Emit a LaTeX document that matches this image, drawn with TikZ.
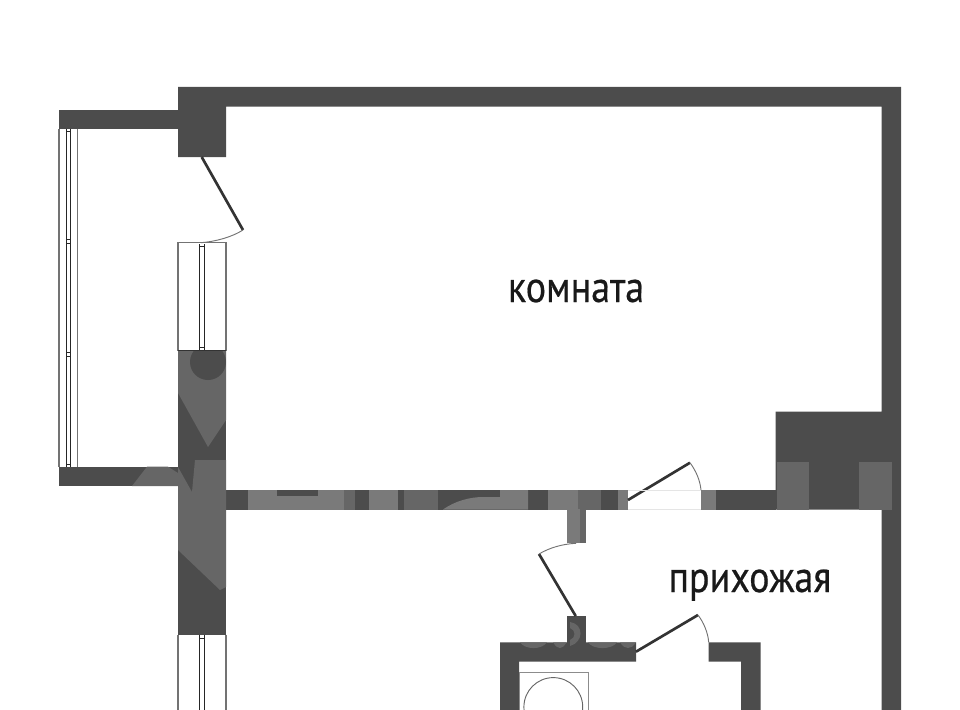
\documentclass[tikz,border=0pt]{standalone}
\usepackage{fontspec}
\setmainfont{PT Sans}
\newfontfamily\roomfont[FakeBold=0.5]{PT Sans}
\usepackage{tikz}

\begin{document}
\begin{tikzpicture}[x=0.75pt,y=-0.75pt,
    wall/.style={fill=black!70, draw=none},
    faded/.style={fill=black!60, draw=none},
    pale/.style={fill=black!52, draw=none},
    glass/.style={draw=black!55, line width=0.9pt},
    frame/.style={draw=black!85, line width=0.6pt},
    leaf/.style={draw=black!80, line width=2pt},
    swing/.style={draw=black!55, line width=0.7pt},
    room/.style={font=\roomfont\fontsize{33}{35}\selectfont, text=black!90, inner sep=0pt, anchor=base}]
    \useasboundingbox (0,0) rectangle (960,710);

    % outer walls
    \fill[wall] (178,87) -- (901,87) -- (901,710) -- (881.7,710) -- (881.7,509.5) -- (775.7,509.5)
        -- (775.7,411.7) -- (881.7,411.7) -- (881.7,106.5) -- (226,106.5) -- (226,157) -- (178,157) -- cycle;
    \fill[wall] (59,109.5) rectangle (178,128.7);
    \fill[wall] (59,466.7) rectangle (178,486);
    \fill[wall] (178,350.7) rectangle (226,634.7);

    % inner walls
    \fill[wall] (226,490) rectangle (628,509.5);
    \fill[wall] (701,490) rectangle (776,509.5);
    \fill[wall] (566.7,509) rectangle (586,543.3);
    \fill[wall] (566.7,616) rectangle (586,650);
    \fill[wall] (500,710) -- (500,642.3) -- (636,642.3) -- (636,661.7) -- (519,661.7) -- (519,710) -- cycle;
    \fill[wall] (708.7,642.3) -- (760.7,642.3) -- (760.7,710) -- (741,710) -- (741,661.7) -- (708.7,661.7) -- cycle;

    % lighter patches on the walls
    \fill[faded] (178,350.7) -- (226,350.7) -- (226,420) -- (208,447) -- (178,393) -- cycle;
    \begin{scope}
        \clip (178,350.7) rectangle (226,400);
        \fill[wall] (208,362) circle (18);
    \end{scope}
    \fill[faded] (195,460) -- (226,460) -- (226,587) -- (220,590) -- (178,550) -- (178,467) -- (192,492) -- cycle;
    \fill[faded] (147,466.7) -- (168,466.7) -- (178,473) -- (178,486) -- (132,486) -- cycle;
    \fill[pale] (248,490) rectangle (344,509.5);
    \fill[wall] (277,490) rectangle (318,496);
    \fill[faded] (344,490) rectangle (355,509.5);
    \fill[pale] (369,490) rectangle (398,509.5);
    \fill[faded] (404,490) rectangle (438,509.5);
    \fill[pale] (443,509.5) .. controls (455,501) and (470,497) .. (483,497) -- (500,497) -- (500,490) -- (528,490) -- (528,509.5) -- cycle;
    \fill[pale] (548,490) rectangle (578,509.5);
    \fill[faded] (578,490) rectangle (601,509.5);
    \fill[pale] (618,490) rectangle (628,509.5);
    \fill[pale] (566.7,509) rectangle (580,543.3);
    \fill[faded] (580,509) rectangle (586,543.3);
    \fill[pale] (701,490) rectangle (716,509.5);
    \fill[faded] (777,462) rectangle (809,509.5);
    \fill[faded] (859,462) rectangle (892,509.5);
    \foreach \xa/\xb in {520/547,553/566.7,588/617,620/636}
        \fill[faded] (\xa,642.3) .. controls (\xa+5,650) and (\xb-5,650) .. (\xb,642.3) -- cycle;
    \fill[faded] (570,622) .. controls (584,624) and (584,642) .. (570,646) -- (570,640) .. controls (576,638) and (576,630) .. (570,628) -- cycle;

    % windows
    \draw[glass] (178,350.7) -- (178,242.7) -- (226,242.7) -- (226,350.7);
    \draw[frame] (199.3,350.7) -- (199.3,243.5) (204,350.7) -- (204,243.5);
    \draw[frame] (199.3,246.5) -- (204,246.5) (199.3,347) -- (204,347);
    \draw[black!80, line width=0.6pt] (178,350.7) -- (226,350.7);
    \draw[glass] (178,634.7) -- (178,710) (226,634.7) -- (226,710);
    \draw[frame] (199.3,634.7) -- (199.3,710) (204,634.7) -- (204,710);
    \draw[frame] (199.3,638.5) -- (204,638.5);
    \draw[glass] (59,128.7) -- (59,466.7) (77.7,128.7) -- (77.7,466.7);
    \draw[frame] (66,128.7) -- (66,466.7) (70.7,128.7) -- (70.7,466.7);
    \foreach \y in {131,239,243,352,356,464}
        \draw[frame] (66,\y) -- (70.7,\y);

    % doors
    \draw[leaf] (201.7,157) -- (243,230);
    \draw[swing] (243,230) .. controls (232,237) and (216,241.5) .. (201,242.7);
    \draw[leaf] (628,500) -- (690,462.7);
    \draw[swing] (690,462.7) .. controls (696,471) and (700,480) .. (701,490);
    \draw[black!10, line width=0.5pt] (628,490) -- (701,490) (628,509.5) -- (701,509.5);
    \draw[leaf] (575.7,616) -- (539,554);
    \draw[swing] (539,554) .. controls (549,548) and (562,544) .. (576,543.3);
    \draw[leaf] (636,651.7) -- (698,615);
    \draw[swing] (698,615) .. controls (704,623) and (708,633) .. (708.7,642.3);

    % washing machine
    \draw[black!45, line width=0.6pt] (519,710) -- (519,672) -- (588,672) -- (588,710);
    \begin{scope}
        \clip (510,665) rectangle (600,710);
        \draw[black!60, line width=0.7pt] (553.3,707) circle (29.4);
    \end{scope}

    \node[room] (komnata) at (576,302) {\scalebox{.865}[1]{комната}};
    \node[room] (hall) at (750,592) {\scalebox{.865}[1]{прихожая}};
\end{tikzpicture}
\end{document}
